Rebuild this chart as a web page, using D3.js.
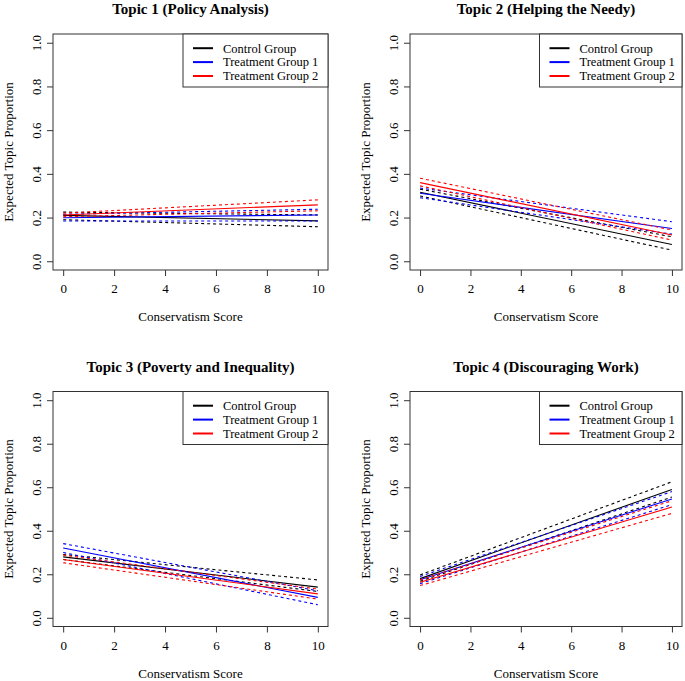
<!DOCTYPE html>
<html><head><meta charset="utf-8">
<script src="https://cdn.jsdelivr.net/npm/d3@7"></script>
<style>body{margin:0;background:#fff}svg{display:block}svg text{font-family:"Liberation Serif","Times New Roman",serif;fill:#000}</style>
</head><body><svg id="c" width="685" height="681"></svg>
<script>
// ---- data ----
const xValues = [0, 10];
const xTicks = [0, 2, 4, 6, 8, 10];
const yTicks = [0, 0.2, 0.4, 0.6, 0.8, 1.0];
const groups = ["Control Group", "Treatment Group 1", "Treatment Group 2"];
const groupColors = ["#000000", "#0000ff", "#ff0000"];
const topicTitles = ["Topic 1 (Policy Analysis)", "Topic 2 (Helping the Needy)", "Topic 3 (Poverty and Inequality)", "Topic 4 (Discouraging Work)"];
// each entry: [value at x=0, value at x=10] for Control, Treatment 1, Treatment 2
const t1Est = [[0.210, 0.185], [0.199, 0.212], [0.212, 0.258]];
const t1Lo  = [[0.190, 0.158], [0.184, 0.184], [0.204, 0.231]];
const t1Hi  = [[0.225, 0.212], [0.215, 0.238], [0.220, 0.281]];
const t2Est = [[0.316, 0.077], [0.311, 0.150], [0.360, 0.120]];
const t2Lo  = [[0.299, 0.051], [0.291, 0.124], [0.345, 0.097]];
const t2Hi  = [[0.330, 0.112], [0.335, 0.181], [0.380, 0.143]];
const t3Est = [[0.280, 0.141], [0.321, 0.094], [0.268, 0.110]];
const t3Lo  = [[0.268, 0.121], [0.300, 0.060], [0.253, 0.086]];
const t3Hi  = [[0.291, 0.174], [0.341, 0.124], [0.288, 0.132]];
const t4Est = [[0.180, 0.590], [0.175, 0.546], [0.163, 0.509]];
const t4Lo  = [[0.168, 0.555], [0.157, 0.520], [0.148, 0.480]];
const t4Hi  = [[0.197, 0.625], [0.190, 0.580], [0.175, 0.538]];
const xLabel = "Conservatism Score";
const yLabel = "Expected Topic Proportion";

const topics = [
  {est: t1Est, lo: t1Lo, hi: t1Hi},
  {est: t2Est, lo: t2Lo, hi: t2Hi},
  {est: t3Est, lo: t3Lo, hi: t3Hi},
  {est: t4Est, lo: t4Lo, hi: t4Hi}
];

// ---- layout ----
const boxL = [53, 410], boxR = [328, 682];
const boxT = [34, 391.5], boxB = [270, 626.5];
const axisColor = "#333";
const serif = '"Liberation Serif","Times New Roman",serif';
const svg = d3.select("#c");

topics.forEach((tp, i) => {
  const col = i % 2, row = Math.floor(i / 2);
  const L = boxL[col], R = boxR[col], T = boxT[row], B = boxB[row];
  const x = d3.scaleLinear().domain([-0.4, 10.4]).range([L, R]);
  const y = d3.scaleLinear().domain([-0.04, 1.04]).range([B, T]);
  const g = svg.append("g");

  // lines
  const line = d3.line().x((d, k) => x(xValues[k])).y(d => y(d));
  groups.forEach((gr, j) => {
    [tp.lo[j], tp.hi[j]].forEach(arr => {
      g.append("path").attr("d", line(arr)).attr("fill", "none")
        .attr("stroke", groupColors[j]).attr("stroke-width", 1.1).attr("stroke-dasharray", "3,3");
    });
    g.append("path").attr("d", line(tp.est[j])).attr("fill", "none")
      .attr("stroke", groupColors[j]).attr("stroke-width", 1.1);
  });

  // box
  g.append("rect").attr("x", L).attr("y", T).attr("width", R - L).attr("height", B - T)
    .attr("fill", "none").attr("stroke", axisColor).attr("stroke-width", 1);

  // x axis
  const xa = g.append("g").attr("transform", `translate(0,${B})`)
    .call(d3.axisBottom(x).tickValues(xTicks).tickSize(6).tickPadding(8).tickFormat(d3.format("d")));
  xa.attr("font-family", serif).attr("font-size", 13);
  xa.select(".domain").remove();
  xa.selectAll("line").attr("stroke", axisColor);

  // y axis
  const ya = g.append("g").attr("transform", `translate(${L},0)`)
    .call(d3.axisLeft(y).tickValues(yTicks).tickSize(6).tickFormat(d3.format(".1f")));
  ya.attr("font-family", serif).attr("font-size", 13);
  ya.select(".domain").remove();
  ya.selectAll("line").attr("stroke", axisColor);
  ya.selectAll("text")
    .attr("x", null).attr("dy", "0.35em")
    .attr("text-anchor", "middle")
    .attr("transform", "translate(-17,0) rotate(-90)");

  // title
  g.append("text").attr("x", (L + R) / 2).attr("y", T - 20).attr("text-anchor", "middle")
    .style("font-size", "15px").style("font-weight", "bold").text(topicTitles[i]);
  // x label
  g.append("text").attr("x", (L + R) / 2).attr("y", B + 51).attr("text-anchor", "middle")
    .style("font-size", "13px").text(xLabel);
  // y label
  g.append("text").attr("transform", `translate(${L - 40},${(T + B) / 2}) rotate(-90)`)
    .attr("text-anchor", "middle").style("font-size", "13px").text(yLabel);

  // legend
  const lgL = L + 130 + (col ? -0.5 : 0), lgT = T, lgB = T + 53;
  g.append("rect").attr("x", lgL).attr("y", lgT).attr("width", R - lgL).attr("height", lgB - lgT)
    .attr("fill", "#fff").attr("stroke", axisColor).attr("stroke-width", 1);
  groups.forEach((gr, j) => {
    const yy = lgT + 14.2 + j * 13.9;
    g.append("line").attr("x1", lgL + 10).attr("x2", lgL + 30).attr("y1", yy).attr("y2", yy)
      .attr("stroke", groupColors[j]).attr("stroke-width", 2);
    g.append("text").attr("x", lgL + 40).attr("y", yy).attr("dy", "0.35em")
      .style("font-size", "12.5px").text(gr);
  });
});
</script>
</body></html>
